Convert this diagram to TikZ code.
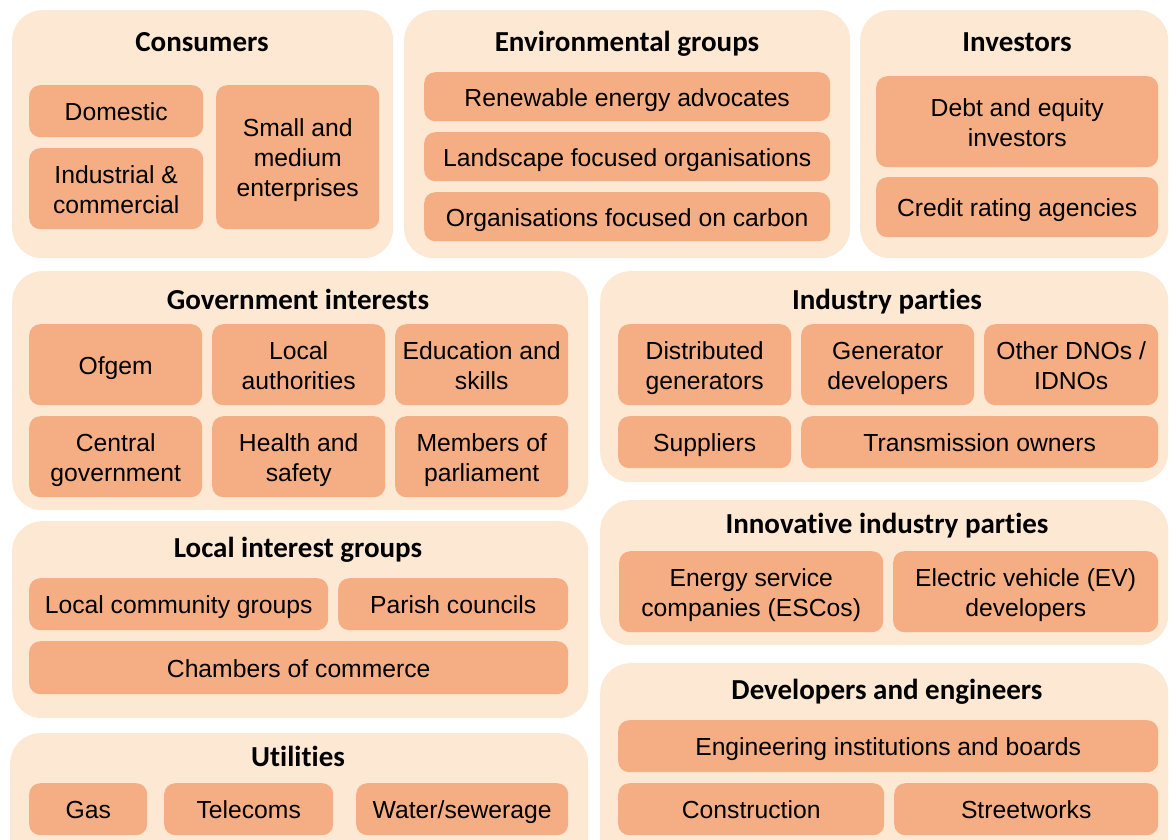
\documentclass[tikz,border=0pt]{standalone}
\usepackage{fontspec}
\setmainfont{Liberation Sans}
\newfontfamily\titlefont[Ligatures=NoCommon]{Carlito}
\definecolor{outerfill}{HTML}{FCE8D3}
\definecolor{innerfill}{HTML}{F5AE84}
\newcommand\topstrut{\rule{0pt}{25pt}}
\newcommand\botstrut{\rule[-6pt]{0pt}{6pt}}
\newcommand\boxtext[1]{\topstrut#1\botstrut}
\begin{document}
\begin{tikzpicture}[x=1pt,y=-1pt,
  outerbox/.style={draw=none,fill=outerfill,rounded corners=30pt,anchor=north west,inner sep=0pt},
  innerbox/.style={draw=none,fill=innerfill,rounded corners=11pt,anchor=north west,inner sep=0pt,align=center,font=\fontsize{24.7}{30}\selectfont},
  title/.style={font=\titlefont\bfseries\fontsize{29}{34}\selectfont,inner sep=0pt,anchor=base}]
\useasboundingbox (0,0) rectangle (1169,839);
% Consumers
\node[outerbox,minimum width=381,minimum height=248] (cons) at (12,10) {};
\node[title] (consT) at (202,51) {Consumers};
\node[innerbox,minimum width=174,minimum height=52] (dom) at (29,85) {\boxtext{Domestic}};
\node[innerbox,minimum width=174,minimum height=81] (ind) at (29,148) {\boxtext{Industrial \&\\commercial}};
\node[innerbox,minimum width=163,minimum height=144] (sme) at (216,85) {\boxtext{Small and\\medium\\enterprises}};
% Environmental groups
\node[outerbox,minimum width=446,minimum height=248] (env) at (404,10) {};
\node[title] (envT) at (627,51) {Environmental groups};
\node[innerbox,minimum width=406,minimum height=49] (ren) at (424,72) {\boxtext{Renewable energy advocates}};
\node[innerbox,minimum width=406,minimum height=49] (lan) at (424,132) {\boxtext{Landscape focused organisations}};
\node[innerbox,minimum width=406,minimum height=49] (car) at (424,192) {\boxtext{Organisations focused on carbon}};
% Investors
\node[outerbox,minimum width=308,minimum height=248] (inv) at (860,10) {};
\node[title] (invT) at (1017,51) {Investors};
\node[innerbox,minimum width=282,minimum height=91] (debt) at (876,76) {\boxtext{Debt and equity\\investors}};
\node[innerbox,minimum width=282,minimum height=60] (cred) at (876,177) {\boxtext{Credit rating agencies}};
% Government interests
\node[outerbox,minimum width=576,minimum height=239] (gov) at (12,271) {};
\node[title] (govT) at (298,309) {Government interests};
\node[innerbox,minimum width=173,minimum height=81] (ofg) at (29,324) {\boxtext{Ofgem}};
\node[innerbox,minimum width=173,minimum height=81] (loc) at (212,324) {\boxtext{Local\\authorities}};
\node[innerbox,minimum width=173,minimum height=81] (edu) at (395,324) {\boxtext{Education and\\skills}};
\node[innerbox,minimum width=173,minimum height=81] (cen) at (29,416) {\boxtext{Central\\government}};
\node[innerbox,minimum width=173,minimum height=81] (hea) at (212,416) {\boxtext{Health and\\safety}};
\node[innerbox,minimum width=173,minimum height=81] (mem) at (395,416) {\boxtext{Members of\\parliament}};
% Industry parties
\node[outerbox,minimum width=568,minimum height=211] (indp) at (600,271) {};
\node[title] (indpT) at (887,309) {Industry parties};
\node[innerbox,minimum width=173,minimum height=81] (dis) at (618,324) {\boxtext{Distributed\\generators}};
\node[innerbox,minimum width=173,minimum height=81] (gen) at (801,324) {\boxtext{Generator\\developers}};
\node[innerbox,minimum width=174,minimum height=81] (dno) at (984,324) {\boxtext{Other DNOs /\\IDNOs}};
\node[innerbox,minimum width=173,minimum height=52] (sup) at (618,416) {\boxtext{Suppliers}};
\node[innerbox,minimum width=357,minimum height=52] (tra) at (801,416) {\boxtext{Transmission owners}};
% Local interest groups
\node[outerbox,minimum width=576,minimum height=197] (lig) at (12,521) {};
\node[title] (ligT) at (298,557) {Local interest groups};
\node[innerbox,minimum width=299,minimum height=52] (lcg) at (29,578) {\boxtext{Local community groups}};
\node[innerbox,minimum width=230,minimum height=52] (par) at (338,578) {\boxtext{Parish councils}};
\node[innerbox,minimum width=539,minimum height=53] (cha) at (29,641) {\boxtext{Chambers of commerce}};
% Innovative industry parties
\node[outerbox,minimum width=568,minimum height=145] (inn) at (600,500) {};
\node[title] (innT) at (887,533) {Innovative industry parties};
\node[innerbox,minimum width=264,minimum height=81] (esc) at (619,551) {\boxtext{Energy service\\companies (ESCos)}};
\node[innerbox,minimum width=265,minimum height=81] (evd) at (893,551) {\boxtext{Electric vehicle (EV)\\developers}};
% Utilities
\node[outerbox,minimum width=578,minimum height=140] (uti) at (10,733) {};
\node[title] (utiT) at (298,766) {Utilities};
\node[innerbox,minimum width=118,minimum height=52] (gas) at (29,783) {\boxtext{Gas}};
\node[innerbox,minimum width=169,minimum height=52] (tel) at (164,783) {\boxtext{Telecoms}};
\node[innerbox,minimum width=212,minimum height=52] (wat) at (356,783) {\boxtext{Water/sewerage}};
% Developers and engineers
\node[outerbox,minimum width=568,minimum height=210] (dev) at (600,663) {};
\node[title] (devT) at (887,699) {Developers and engineers};
\node[innerbox,minimum width=540,minimum height=52] (eng) at (618,720) {\boxtext{Engineering institutions and boards}};
\node[innerbox,minimum width=266,minimum height=52] (con) at (618,783) {\boxtext{Construction}};
\node[innerbox,minimum width=264,minimum height=52] (str) at (894,783) {\boxtext{Streetworks}};
\end{tikzpicture}
\end{document}
